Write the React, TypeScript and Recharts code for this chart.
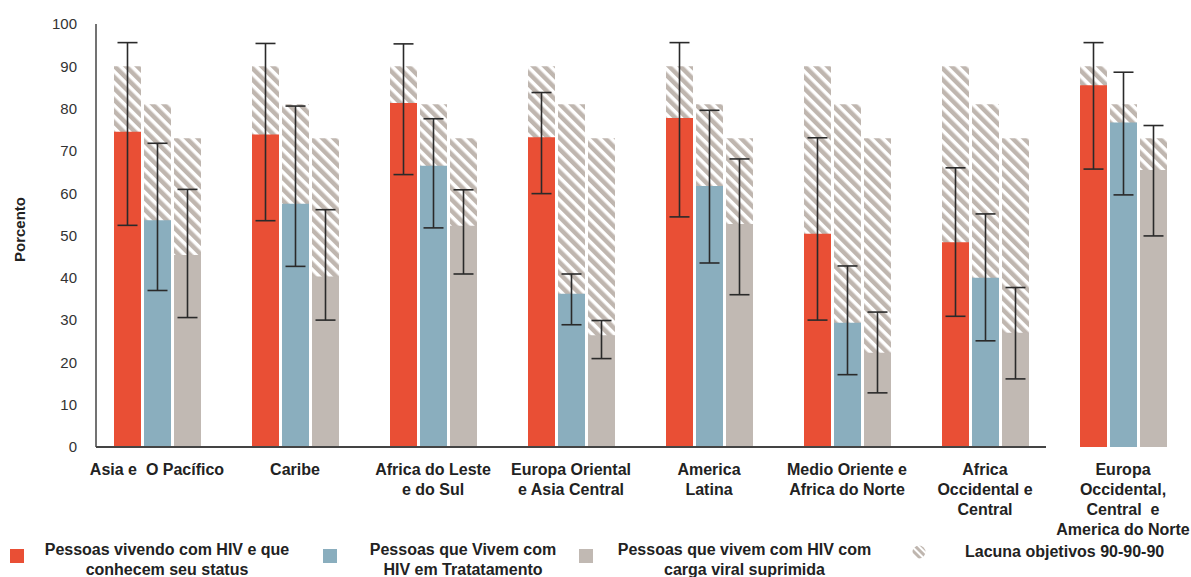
import React from 'react';
import { BarChart, Bar, XAxis, YAxis, ErrorBar } from 'recharts';

const regions = [
  'Asia e  O Pacífico',
  'Caribe',
  'Africa do Leste\ne do Sul',
  'Europa Oriental\ne Asia Central',
  'America\nLatina',
  'Medio Oriente e\nAfrica do Norte',
  'Africa\nOccidental e\nCentral',
  'Europa\nOccidental,\nCentral  e\nAmerica do Norte',
];

// first 90: people living with HIV who know their status
const knowStatus = [74.5, 73.9, 81.3, 73.2, 77.8, 50.4, 48.4, 85.5];
const knowLow = [52.4, 53.5, 64.4, 59.9, 54.4, 30.0, 30.9, 65.7];
const knowHigh = [95.6, 95.4, 95.3, 83.8, 95.6, 73.1, 66.0, 95.6];

// second 90: on treatment
const onTreatment = [53.6, 57.5, 66.5, 36.2, 61.7, 29.4, 40.0, 76.7];
const treatLow = [37.0, 42.7, 51.8, 28.9, 43.5, 17.1, 25.1, 59.6];
const treatHigh = [71.8, 80.6, 77.6, 40.9, 79.6, 42.8, 55.1, 88.6];

// third 90: viral load suppressed
const suppressed = [45.4, 40.3, 52.3, 26.4, 52.7, 22.3, 27.0, 65.5];
const suppLow = [30.6, 30.0, 40.9, 20.9, 36.0, 12.8, 16.1, 49.9];
const suppHigh = [60.9, 56.1, 60.8, 29.9, 68.1, 31.9, 37.7, 76.0];

const targets = [90, 81, 73];
const yTicks = [0, 10, 20, 30, 40, 50, 60, 70, 80, 90, 100];

const legendItems = [
  { label: 'Pessoas vivendo com HIV e que\nconhecem seu status', color: '#e94f35' },
  { label: 'Pessoas que Vivem com\nHIV em Tratatamento', color: '#8aaebe' },
  { label: 'Pessoas que vivem com HIV com\ncarga viral suprimida', color: '#c1b9b3' },
  { label: 'Lacuna objetivos 90-90-90', color: 'hatch' },
];

const data = regions.map((name, i) => ({
  name,
  know: knowStatus[i],
  knowErr: [knowStatus[i] - knowLow[i], knowHigh[i] - knowStatus[i]],
  treat: onTreatment[i],
  treatErr: [onTreatment[i] - treatLow[i], treatHigh[i] - onTreatment[i]],
  supp: suppressed[i],
  suppErr: [suppressed[i] - suppLow[i], suppHigh[i] - suppressed[i]],
  gap1: targets[0],
  gap2: targets[1],
  gap3: targets[2],
}));

const FONT = "'Liberation Sans', Arial, Helvetica, sans-serif";
const HATCH = '#bfb6af';
const pad = { left: -8, right: -1 };

function RegionTick({ x, y, payload }: any) {
  const lines = String(payload.value).split('\n');
  return (
    <text x={x} y={y} textAnchor="middle" fill="#222" fontSize={16} fontWeight="bold"
      fontFamily={FONT} style={{ whiteSpace: 'pre' }}>
      {lines.map((l, i) => (
        <tspan key={i} x={x} dy={20}>{l}</tspan>
      ))}
    </text>
  );
}

function Legend() {
  const pos = [
    { sq: 10, txt: 42, w: 250 },
    { sq: 323, txt: 363, w: 200 },
    { sq: 579, txt: 612, w: 265 },
    { sq: 912, txt: 965, w: 215 },
  ];
  return (
    <>
      {legendItems.map((it, i) => (
        <React.Fragment key={i}>
          {it.color === 'hatch' ? (
            <svg style={{ position: 'absolute', left: pos[i].sq, top: 545 }} width={14} height={14}>
              <defs>
                <pattern id="legendHatch" patternUnits="userSpaceOnUse" width={5} height={5}
                  patternTransform="rotate(-45)">
                  <rect x={0} y={0} width={3} height={5} fill={HATCH} />
                </pattern>
              </defs>
              <circle cx={7} cy={7} r={6.5} fill="url(#legendHatch)" />
            </svg>
          ) : (
            <div style={{ position: 'absolute', left: pos[i].sq, top: 549, width: 14, height: 14, background: it.color }} />
          )}
          <div style={{
            position: 'absolute', left: pos[i].txt, top: it.label.includes('\n') ? 540 : 542, width: pos[i].w,
            textAlign: it.label.includes('\n') ? 'center' : 'left', whiteSpace: 'pre', fontFamily: FONT,
            fontWeight: 'bold', fontSize: 16, lineHeight: '20px', color: '#222',
          }}>{it.label}</div>
        </React.Fragment>
      ))}
    </>
  );
}

export default function App() {
  return (
    <div style={{ position: 'absolute', left: 0, top: 0, width: 1191, height: 577, background: '#fff' }}>
      <BarChart width={1191} height={577} data={data}
        margin={{ top: 24, right: 0, left: 0, bottom: 30 }}
        barCategoryGap={26} barGap={3}>
        <defs>
          <pattern id="gapHatch" patternUnits="userSpaceOnUse" width={8} height={8}
            patternTransform="rotate(-45)">
            <rect x={0} y={0} width={8} height={8} fill="#fff" />
            <rect x={0} y={0} width={4.5} height={8} fill={HATCH} />
          </pattern>
        </defs>
        <XAxis xAxisId="gap" dataKey="name" hide padding={pad} />
        <XAxis dataKey="name" height={100} axisLine={false} tickLine={false}
          interval={0} padding={pad} tick={<RegionTick />} />
        <YAxis domain={[0, 100]} ticks={yTicks} width={96} tickLine={false} tickSize={6} tickMargin={13}
          axisLine={{ stroke: '#444', strokeWidth: 1.5 }}
          tick={{ fill: '#333', fontSize: 15, fontFamily: FONT }}
          label={{
            value: 'Porcento', angle: -90, position: 'insideLeft', offset: 20, dy: -6,
            style: { textAnchor: 'middle', fill: '#222', fontSize: 15, fontWeight: 'bold', fontFamily: FONT },
          }} />
        <Bar xAxisId="gap" dataKey="gap1" fill="url(#gapHatch)" isAnimationActive={false} />
        <Bar xAxisId="gap" dataKey="gap2" fill="url(#gapHatch)" isAnimationActive={false} />
        <Bar xAxisId="gap" dataKey="gap3" fill="url(#gapHatch)" isAnimationActive={false} />
        <Bar dataKey="know" fill="#e94f35" isAnimationActive={false}>
          <ErrorBar dataKey="knowErr" width={10} strokeWidth={1.6} stroke="#2a2a2a" isAnimationActive={false} />
        </Bar>
        <Bar dataKey="treat" fill="#8aaebe" isAnimationActive={false}>
          <ErrorBar dataKey="treatErr" width={10} strokeWidth={1.6} stroke="#2a2a2a" isAnimationActive={false} />
        </Bar>
        <Bar dataKey="supp" fill="#c1b9b3" isAnimationActive={false}>
          <ErrorBar dataKey="suppErr" width={10} strokeWidth={1.6} stroke="#2a2a2a" isAnimationActive={false} />
        </Bar>
      </BarChart>
      {/* x baseline stops before the last region, as in the source figure */}
      <div style={{ position: 'absolute', left: 96, top: 446, width: 950, height: 2, background: '#444' }} />
      <Legend />
    </div>
  );
}
